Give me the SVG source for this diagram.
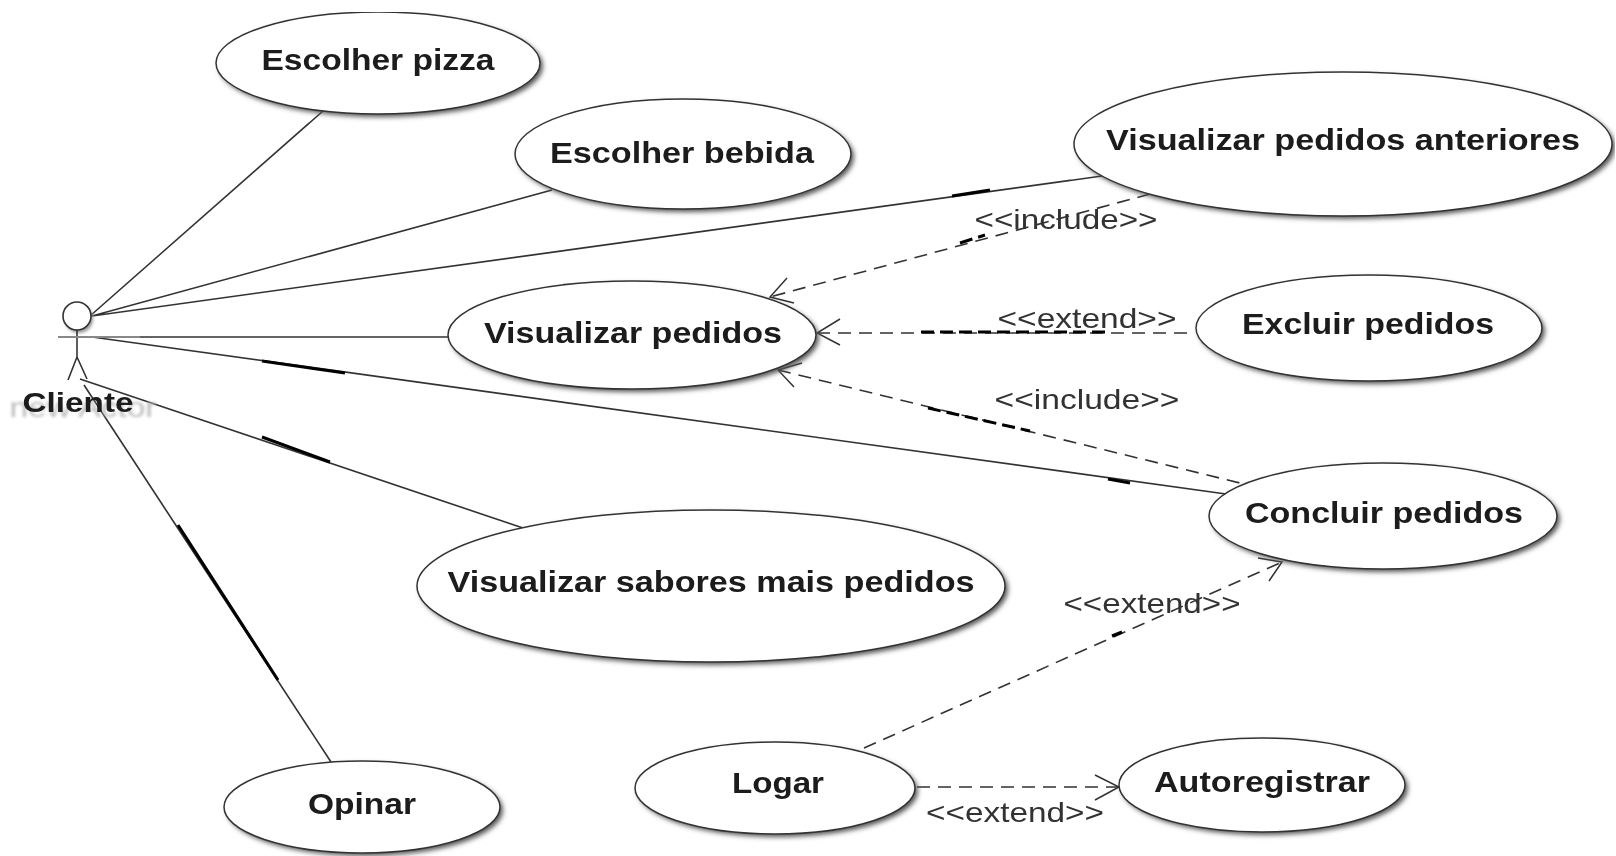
<svg xmlns="http://www.w3.org/2000/svg" width="1616" height="856" viewBox="0 0 1616 856">
<style>
.u{fill:#fff;stroke:#333;stroke-width:1.5}
.s{fill:#555;filter:url(#b)}
.t{font-family:"Liberation Sans",Arial,sans-serif;font-size:29px;font-weight:bold;fill:#1a1a1a;text-anchor:middle}
.l{font-family:"Liberation Sans",Arial,sans-serif;font-size:28px;fill:#333;text-anchor:middle}
.c{fill:none;stroke:#333;stroke-width:1.6}
.d{fill:none;stroke:#333;stroke-width:1.6;stroke-dasharray:13 8}
.k{fill:none;stroke:#000;stroke-width:3}
.a{fill:none;stroke:#333;stroke-width:1.5}
</style>
<defs><filter id="b" x="-10%" y="-20%" width="120%" height="140%"><feGaussianBlur stdDeviation="2.5"/></filter>
<filter id="g" x="-10%" y="-20%" width="120%" height="140%"><feGaussianBlur stdDeviation="1.5"/></filter>
<filter id="f" x="0" y="0" width="100%" height="100%"><feGaussianBlur stdDeviation="0.5"/></filter></defs>
<rect width="1616" height="856" fill="#fff"/>
<g id="diagram" filter="url(#f)">
<g id="connectors">
<path class="c" d="M90 316L323 111M92 316L552 190M92 316L1102 176M58 337H450M92 337L1226 494M80 379L526 529M84 385L331 762"/>
<path class="k" d="M262 361L345 373M262 437L330 462M178 525L278 680M952 196L990 190M1108 479L1130 483"/>
<path class="d" d="M1150 194L770 297M817 333H1195M778 370L1240 483M864 748L1282 562M917 787H1119"/>
<path class="k" stroke-dasharray="13 6" d="M921 332H1105M928 408L1030 431M960 243L985 235M1112 636L1122 632"/>
<path class="a" d="M787 278L770 297L794 303M840 319L817 333L840 345M802 363L778 370L794 387M1258 558L1282 562L1269 581M1095 775L1119 787L1095 800"/>
</g>
<g id="actor-cliente">
<circle cx="79" cy="319" r="14" fill="#999" filter="url(#g)"/>
<text x="83" y="417" font-family="Liberation Sans,Arial,sans-serif" font-size="27" fill="#bbb" text-anchor="middle" textLength="147" lengthAdjust="spacingAndGlyphs" filter="url(#g)">new Actor</text>
<circle cx="77" cy="316" r="14" fill="#fff" stroke="#333" stroke-width="1.6"/>
<path class="c" d="M77 330V357M77 357L68 380M77 357L87 379"/>
<path d="M58 337H140" stroke="#888" stroke-width="2.2" fill="none"/>
<text x="78" y="412" class="t" style="font-size:27px" textLength="111" lengthAdjust="spacingAndGlyphs">Cliente</text>
</g>
<g id="uc-pizza"><ellipse class="s" cx="381" cy="66" rx="162" ry="51"/><ellipse class="u" cx="378" cy="63" rx="162" ry="51"/><text x="378" y="70" class="t" textLength="233" lengthAdjust="spacingAndGlyphs">Escolher pizza</text></g>
<g id="uc-bebida"><ellipse class="s" cx="686" cy="157" rx="168" ry="55"/><ellipse class="u" cx="683" cy="154" rx="168" ry="55"/><text x="682" y="163" class="t" textLength="264" lengthAdjust="spacingAndGlyphs">Escolher bebida</text></g>
<g id="uc-anteriores"><ellipse class="s" cx="1346" cy="147" rx="269" ry="72"/><ellipse class="u" cx="1343" cy="144" rx="269" ry="72"/><text x="1343" y="150" class="t" textLength="474" lengthAdjust="spacingAndGlyphs">Visualizar pedidos anteriores</text></g>
<g id="uc-pedidos"><ellipse class="s" cx="635" cy="338" rx="184" ry="54"/><ellipse class="u" cx="632" cy="335" rx="184" ry="54"/><text x="633" y="343" class="t" textLength="298" lengthAdjust="spacingAndGlyphs">Visualizar pedidos</text></g>
<g id="uc-excluir"><ellipse class="s" cx="1372" cy="331" rx="173" ry="53"/><ellipse class="u" cx="1369" cy="328" rx="173" ry="53"/><text x="1368" y="334" class="t" textLength="252" lengthAdjust="spacingAndGlyphs">Excluir pedidos</text></g>
<g id="uc-concluir"><ellipse class="s" cx="1386" cy="519" rx="174" ry="53"/><ellipse class="u" cx="1383" cy="516" rx="174" ry="53"/><text x="1384" y="523" class="t" textLength="278" lengthAdjust="spacingAndGlyphs">Concluir pedidos</text></g>
<g id="uc-sabores"><ellipse class="s" cx="714" cy="589" rx="294" ry="76"/><ellipse class="u" cx="711" cy="586" rx="294" ry="76"/><text x="711" y="592" class="t" textLength="527" lengthAdjust="spacingAndGlyphs">Visualizar sabores mais pedidos</text></g>
<g id="uc-opinar"><ellipse class="s" cx="365" cy="810" rx="138" ry="46"/><ellipse class="u" cx="362" cy="807" rx="138" ry="46"/><text x="362" y="814" class="t" textLength="108" lengthAdjust="spacingAndGlyphs">Opinar</text></g>
<g id="uc-logar"><ellipse class="s" cx="778" cy="791" rx="140" ry="46"/><ellipse class="u" cx="775" cy="788" rx="140" ry="46"/><text x="778" y="793" class="t" textLength="92" lengthAdjust="spacingAndGlyphs">Logar</text></g>
<g id="uc-autoregistrar"><ellipse class="s" cx="1265" cy="788" rx="143" ry="47"/><ellipse class="u" cx="1262" cy="785" rx="143" ry="47"/><text x="1262" y="792" class="t" textLength="216" lengthAdjust="spacingAndGlyphs">Autoregistrar</text></g>
<g id="labels">
<text x="1066" y="229" class="l" textLength="183" lengthAdjust="spacingAndGlyphs">&lt;&lt;include&gt;&gt;</text>
<text x="1087" y="328" class="l" textLength="179" lengthAdjust="spacingAndGlyphs">&lt;&lt;extend&gt;&gt;</text>
<text x="1087" y="409" class="l" textLength="185" lengthAdjust="spacingAndGlyphs">&lt;&lt;include&gt;&gt;</text>
<text x="1152" y="613" class="l" textLength="177" lengthAdjust="spacingAndGlyphs">&lt;&lt;extend&gt;&gt;</text>
<text x="1015" y="822" class="l" textLength="178" lengthAdjust="spacingAndGlyphs">&lt;&lt;extend&gt;&gt;</text>
</g>
</g>
</svg>
